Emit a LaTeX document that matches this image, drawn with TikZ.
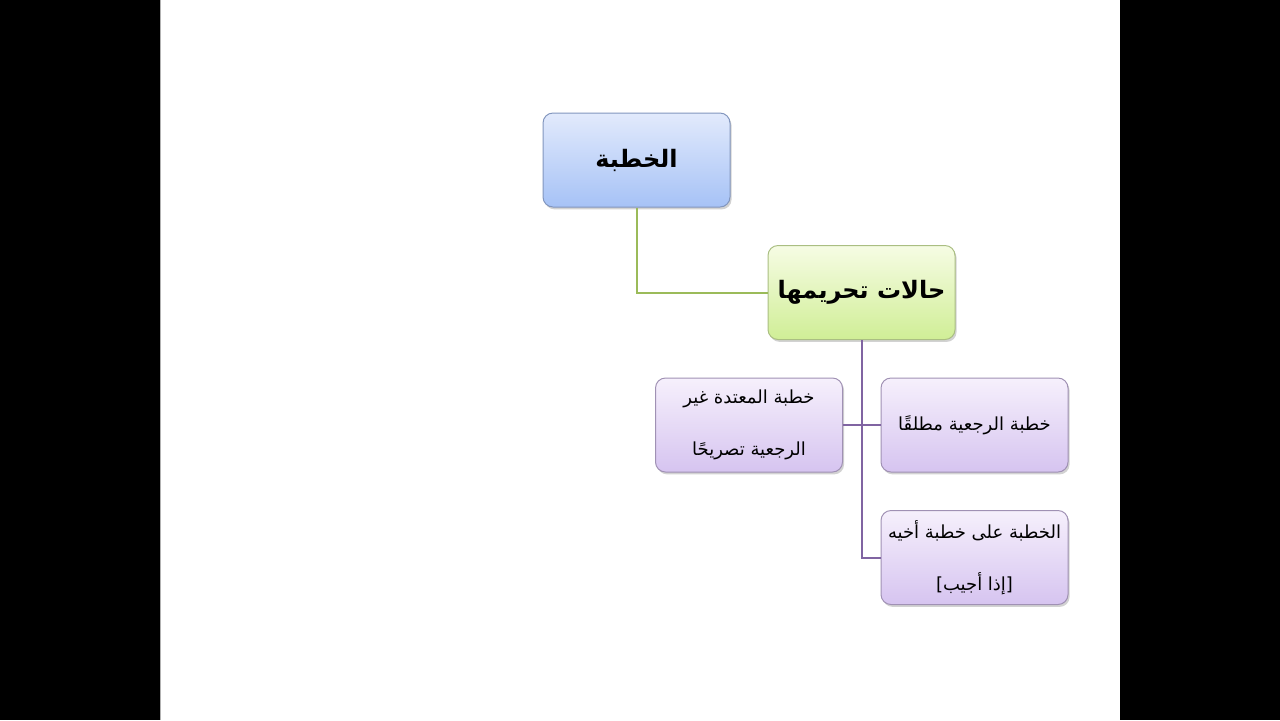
\documentclass[tikz,border=0pt]{standalone}
\usepackage{fontspec}
\newfontfamily\arabicfont[Script=Arabic]{DejaVu Sans}
\TeXXeTstate=1
\usetikzlibrary{shadows}
\definecolor{bluetop}{RGB}{226,234,252}
\definecolor{bluebot}{RGB}{166,194,246}
\definecolor{blueline}{RGB}{130,150,190}
\definecolor{greentop}{RGB}{246,252,228}
\definecolor{greenbot}{RGB}{208,238,150}
\definecolor{greenline}{RGB}{170,190,130}
\definecolor{purptop}{RGB}{246,240,252}
\definecolor{purpbot}{RGB}{214,196,240}
\definecolor{purpline}{RGB}{160,145,180}
\definecolor{olivelink}{RGB}{155,187,89}
\definecolor{purplink}{RGB}{128,100,162}
\tikzset{
  box/.style={rounded corners=5pt, minimum width=93.5pt, minimum height=47pt,
    inner sep=0pt, align=center, line width=0.5pt,
    drop shadow={shadow xshift=0.8pt, shadow yshift=-1.2pt, opacity=0.35}},
  bluebox/.style={box, draw=blueline, top color=bluetop, bottom color=bluebot,
    font={\arabicfont\bfseries\fontsize{12}{16}\selectfont}},
  greenbox/.style={box, draw=greenline, top color=greentop, bottom color=greenbot,
    font={\arabicfont\bfseries\fontsize{12}{16}\selectfont}},
  purpbox/.style={box, draw=purpline, top color=purptop, bottom color=purpbot,
    font={\arabicfont\fontsize{9}{26}\selectfont}},
  olink/.style={draw=olivelink, line width=1pt},
  plink/.style={draw=purplink, line width=1pt}
}
\begin{document}
\begin{tikzpicture}[x=0.5pt,y=-0.5pt]
\useasboundingbox (0,0) rectangle (1280,720);
\fill[black] (0,0) rectangle (1280,720);
\fill[white] (160,0) rectangle (1120,720);
\draw[gray!60, line width=0.4pt] (160.5,0) -- (160.5,720);
\node[bluebox] (top) at (636.5,160) {\beginR الخطبة\endR};
\node[greenbox] (mid) at (861.5,292.5) {\beginR حالات تحريمها\endR};
\node[purpbox] (left) at (749,425) {\beginR خطبة المعتدة غير\endR\\\beginR الرجعية تصريحًا\endR};
\node[purpbox] (right) at (974.5,425) {\beginR خطبة الرجعية مطلقًا\endR};
\node[purpbox] (bot) at (974.5,557.5) {\beginR الخطبة على خطبة أخيه\endR\\\beginR [إذا أجيب]\endR};
\draw[olink] (top.south) |- (mid.west);
\draw[plink] (mid.south) |- (bot.west);
\draw[plink] (left.east) -- (right.west);
\end{tikzpicture}
\end{document}
